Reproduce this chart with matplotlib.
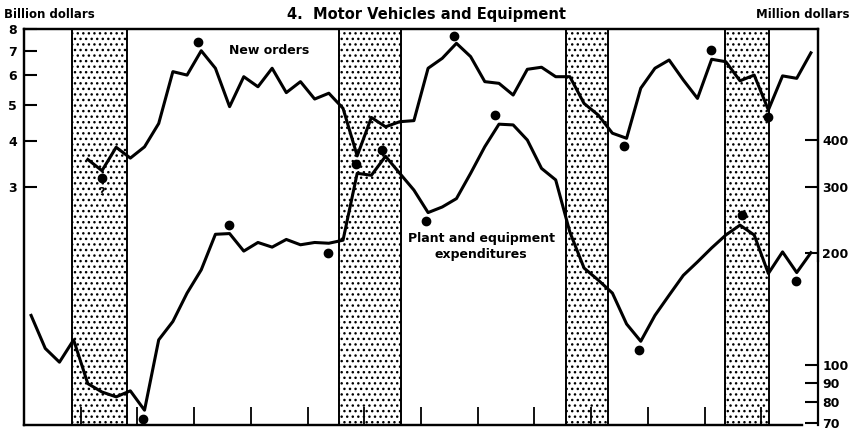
import numpy as np
import matplotlib
matplotlib.use('Agg')
from matplotlib import pyplot as plt
from matplotlib.ticker import FixedLocator, NullLocator, FixedFormatter

# quarterly data, new orders 1949Q1-1961Q4 (billion dollars)
orders_start = 1949
new_orders = [3.56, 3.32, 3.84, 3.59, 3.85, 4.45, 6.14, 6.01, 6.99, 6.27, 4.94, 5.95,
              5.59, 6.27, 5.39, 5.77, 5.18, 5.37, 4.89, 3.64, 4.62, 4.36, 4.50, 4.53,
              6.27, 6.67, 7.32, 6.74, 5.77, 5.71, 5.31, 6.23, 6.31, 5.95, 5.95, 5.04,
              4.69, 4.19, 4.06, 5.54, 6.27, 6.60, 5.83, 5.20, 6.63, 6.53, 5.80, 6.01,
              4.84, 5.98, 5.89, 6.90]

# plant and equipment expenditures 1948Q1-1961Q4 (million dollars)
pe_start = 1948
plant_equip = [136, 111, 102, 117, 89.4, 84.9, 82.4, 85.5, 75.9, 117, 131, 156,
               180, 224, 225, 202, 213, 207, 217, 210, 213, 212, 216, 326,
               322, 362, 326, 294, 256, 265, 279, 326, 384, 441, 439, 400,
               336, 313, 227, 182, 169, 156, 129, 116, 136, 154, 174, 189,
               206, 223, 237, 223, 176, 201, 177, 200]

# turning point markers
orders_dot_x = [1949.38, 1951.07, 1953.86, 1955.59, 1958.58, 1960.11, 1961.12]
orders_dot_y = [3.17, 7.39, 3.46, 7.66, 3.88, 7.02, 4.62]
pe_dot_x = [1950.09, 1951.61, 1953.36, 1954.31, 1955.09, 1956.31, 1958.85, 1960.66, 1961.62]
pe_dot_y = [71.7, 237, 200, 376, 243, 468, 110, 252, 168]

# business cycle contractions (peak, trough)
recessions = [(1948.85, 1949.81), (1953.55, 1954.64), (1957.55, 1958.30), (1960.36, 1961.13)]

left_ticks = [3, 4, 5, 6, 7, 8]
right_ticks = [70, 80, 90, 100, 200, 300, 400]

plt.rcParams['font.family'] = 'DejaVu Sans'
plt.rcParams['font.weight'] = 'bold'
plt.rcParams['hatch.linewidth'] = 1.0

W, H = 855, 433
fig = plt.figure(figsize=(W / 100, H / 100), dpi=100)
ax1 = fig.add_axes([24 / W, 1 - 425 / H, (818 - 24) / W, (425 - 29) / H])
ax2 = ax1.twinx()

for a, b in recessions:
    ax1.axvspan(a, b, facecolor='white', edgecolor='black', hatch='...', lw=1.4, zorder=1)

x_orders = orders_start + 0.125 + 0.25 * np.arange(len(new_orders))
x_pe = pe_start + 0.125 + 0.25 * np.arange(len(plant_equip))

ax1.plot(x_orders, new_orders, color='black', lw=2.2, zorder=3)
ax1.plot(orders_dot_x, orders_dot_y, 'o', color='black', ms=6, zorder=4)
ax2.plot(x_pe, plant_equip, color='black', lw=2.2, zorder=3)
ax2.plot(pe_dot_x, pe_dot_y, 'o', color='black', ms=6, zorder=4)

for a in (ax1, ax2):
    a.set_yscale('log')
    a.set_xlim(1948, 1962)
    a.yaxis.set_minor_locator(NullLocator())

ax1.set_ylim(0.685, 8)
ax2.set_ylim(69.3, 792)

ax1.yaxis.set_major_locator(FixedLocator(left_ticks))
ax1.yaxis.set_major_formatter(FixedFormatter([str(t) for t in left_ticks]))
ax2.yaxis.set_major_locator(FixedLocator(right_ticks))
ax2.yaxis.set_major_formatter(FixedFormatter([str(t) for t in right_ticks]))

ax1.set_xticks(np.arange(1949, 1962))
ax1.set_xticklabels([])
ax1.xaxis.set_minor_locator(NullLocator())
ax1.tick_params(axis='x', direction='in', length=13, width=1.3, top=False)
ax1.tick_params(axis='y', direction='in', length=9.5, width=1.5, labelsize=9, pad=5)
ax2.tick_params(axis='y', direction='in', length=9.5, width=1.5, labelsize=9, pad=3)

for a in (ax1, ax2):
    for s in a.spines.values():
        s.set_linewidth(1.6)
ax2.spines['right'].set_bounds(190, 792)
ax2.spines['bottom'].set_bounds(1948, 1961.72)
ax1.spines['bottom'].set_bounds(1948, 1961.72)
ax1.set_zorder(ax2.get_zorder() - 1)
ax2.patch.set_visible(False)

ax1.text(1951.62, 7.0, 'New orders', fontsize=9, va='center', ha='left', zorder=5)
ax2.text(1956.06, 208, 'Plant and equipment\nexpenditures', fontsize=9, ha='center',
         va='center', linespacing=1.25, zorder=5)
ax1.text(1949.37, 2.91, '?', fontsize=8, ha='center', va='center', zorder=5)

fig.text(4 / W, 1 - 15 / H, 'Billion dollars', fontsize=8.5, ha='left', va='center')
fig.text(849 / W, 1 - 15 / H, 'Million dollars', fontsize=8.5, ha='right', va='center')
fig.text(426 / W, 1 - 14 / H, '4.  Motor Vehicles and Equipment', fontsize=10.5,
         ha='center', va='center')

fig.savefig('out.png', dpi=100)
